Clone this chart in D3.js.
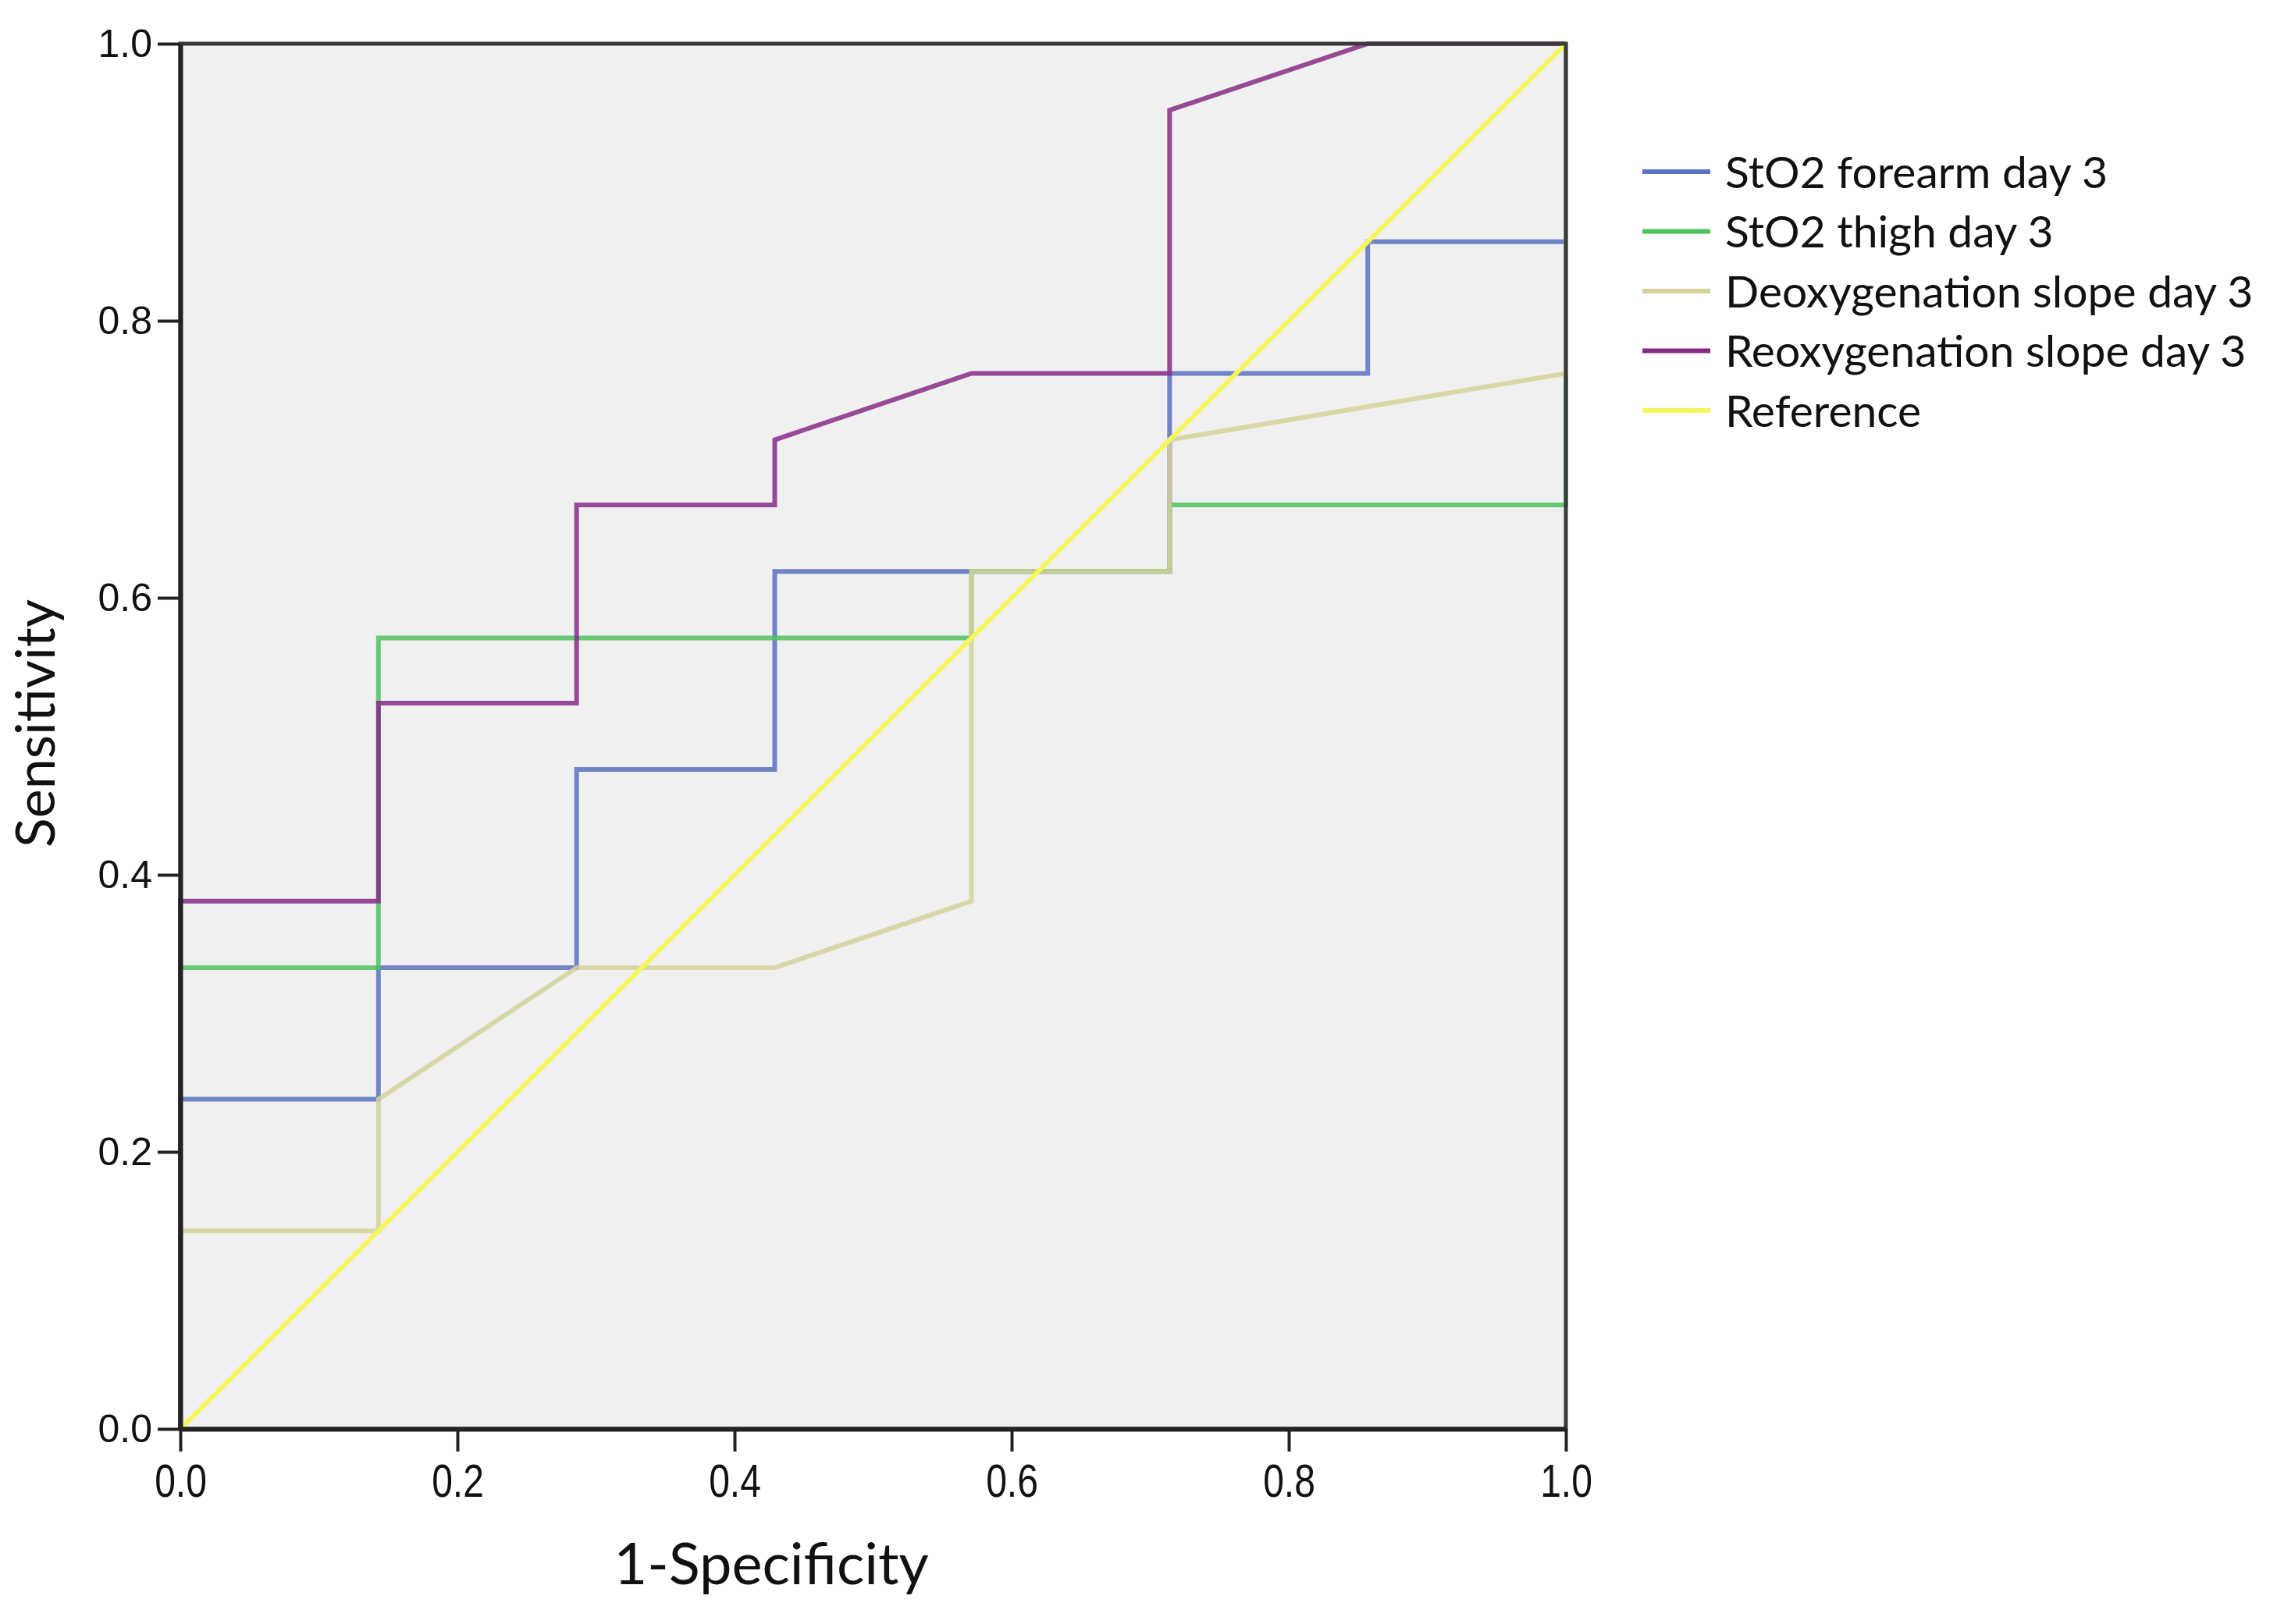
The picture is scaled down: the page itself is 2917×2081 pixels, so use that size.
<!DOCTYPE html>
<html>
<head>
<meta charset="utf-8">
<script src="https://cdn.jsdelivr.net/npm/d3@7"></script>
<style>
  body { margin: 0; background: #fff; }
  svg { display: block; }
</style>
</head>
<body>
<svg width="2917" height="2081"></svg>
<script>
// ROC points (1-specificity, sensitivity)
var forearmX = [0, 0, 0.143, 0.143, 0.286, 0.286, 0.429, 0.429, 0.714, 0.714, 0.857, 0.857, 1, 1];
var forearmY = [0, 0.238, 0.238, 0.333, 0.333, 0.476, 0.476, 0.619, 0.619, 0.762, 0.762, 0.857, 0.857, 1];

var thighX = [0, 0, 0.143, 0.143, 0.571, 0.571, 0.714, 0.714, 1, 1];
var thighY = [0, 0.333, 0.333, 0.571, 0.571, 0.619, 0.619, 0.667, 0.667, 1];

var deoxyX = [0, 0, 0.143, 0.143, 0.286, 0.429, 0.571, 0.571, 0.714, 0.714, 1, 1];
var deoxyY = [0, 0.143, 0.143, 0.238, 0.333, 0.333, 0.381, 0.619, 0.619, 0.714, 0.762, 1];

var reoxyX = [0, 0, 0.143, 0.143, 0.286, 0.286, 0.429, 0.429, 0.571, 0.714, 0.714, 0.857, 1];
var reoxyY = [0, 0.381, 0.381, 0.524, 0.524, 0.667, 0.667, 0.714, 0.762, 0.762, 0.952, 1, 1];

var refX = [0, 1];
var refY = [0, 1];

var seriesNames = ["StO2 forearm day 3", "StO2 thigh day 3", "Deoxygenation slope day 3", "Reoxygenation slope day 3", "Reference"];
var tickValues = [0, 0.2, 0.4, 0.6, 0.8, 1.0];

function main(){
    var svg = d3.select("svg");
    var left = 231, top = 56, size = 1775;

    var xScale = d3.scaleLinear().domain([0, 1]).range([0, size]),
        yScale = d3.scaleLinear().domain([0, 1]).range([size, 0]);

    var colors = ["#5b71c1", "#4cc35d", "#d5d19b", "#872a87", "#f6f65a"];
    var xs = [forearmX, thighX, deoxyX, reoxyX, refX];
    var ys = [forearmY, thighY, deoxyY, reoxyY, refY];

    var g = svg.append("g").attr("transform", "translate(" + left + "," + top + ")");

    g.append("rect")
        .attr("width", size)
        .attr("height", size)
        .attr("fill", "#f0f0f0");

    var line = d3.line()
        .x(function(d){ return xScale(d[0]); })
        .y(function(d){ return yScale(d[1]); });

    xs.forEach(function(xv, i){
        var pts = xv.map(function(x, j){ return [x, ys[i][j]]; });
        g.append("path")
            .attr("d", line(pts))
            .attr("fill", "none")
            .attr("stroke", colors[i])
            .attr("stroke-opacity", i == 4 ? 1 : 0.85)
            .attr("stroke-width", 6);
    });

    // frame
    g.append("rect")
        .attr("width", size)
        .attr("height", size)
        .attr("fill", "none")
        .attr("stroke", "#3a3a3a")
        .attr("stroke-width", 5);

    var yAxis = g.append("g")
        .call(d3.axisLeft(yScale).tickValues(tickValues).tickFormat(d3.format(".1f")).tickSize(29).tickSizeOuter(0));
    yAxis.select(".domain").attr("stroke", "#222").attr("stroke-width", 6);
    yAxis.selectAll(".tick line").attr("stroke", "#222").attr("stroke-width", 4);
    yAxis.selectAll(".tick text")
        .attr("x", -36)
        .attr("font-family", "Liberation Sans, Arial, sans-serif")
        .attr("font-size", "50px")
        .attr("fill", "#111");

    var xAxis = g.append("g").attr("transform", "translate(0," + size + ")")
        .call(d3.axisBottom(xScale).tickValues(tickValues).tickFormat(d3.format(".1f")).tickSize(29).tickSizeOuter(0));
    xAxis.select(".domain").attr("stroke", "#222").attr("stroke-width", 6);
    xAxis.selectAll(".tick text")
        .attr("y", 44)
        .attr("font-family", "Liberation Sans, Arial, sans-serif")
        .attr("font-size", "60px")
        .attr("fill", "#111")
        .attr("transform", "scale(0.8,1)");
    xAxis.selectAll(".tick line").attr("stroke", "#222").attr("stroke-width", 4);

    svg.append("text")
        .attr("x", 988)
        .attr("y", 2030)
        .attr("text-anchor", "middle")
        .attr("font-family", "Lato, sans-serif")
        .attr("font-size", "74px")
        .attr("fill", "#111")
        .text("1-Specificity");

    svg.append("text")
        .attr("transform", "translate(70,927) rotate(-90)")
        .attr("text-anchor", "middle")
        .attr("font-family", "Lato, sans-serif")
        .attr("font-size", "70px")
        .attr("fill", "#111")
        .text("Sensitivity");

    // legend
    var legend = svg.append("g").attr("transform", "translate(2104,220)");
    seriesNames.forEach(function(name, i){
        var row = legend.append("g").attr("transform", "translate(0," + (i * 76.5) + ")");
        row.append("line")
            .attr("x1", 0).attr("x2", 87)
            .attr("y1", 0).attr("y2", 0)
            .attr("stroke", colors[i])
            .attr("stroke-width", 6);
        row.append("text")
            .attr("x", 106)
            .attr("y", 0)
            .attr("dy", "0.36em")
            .attr("font-family", "Lato, sans-serif")
            .attr("font-size", "57px")
            .attr("fill", "#111")
            .text(name);
    });
}
main();
</script>
</body>
</html>
